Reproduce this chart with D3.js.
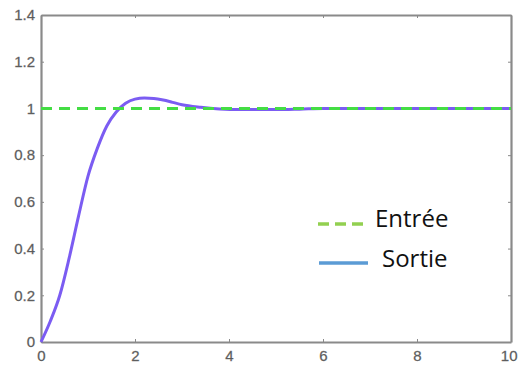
<!DOCTYPE html>
<html>
<head>
<meta charset="utf-8">
<script src="https://cdn.jsdelivr.net/npm/d3@7"></script>
<style>
  body { margin: 0; background: #fff; }
  .axis text { font-family: "Liberation Sans", Arial, sans-serif; font-size: 15px; fill: #555; stroke: #777; stroke-width: 0.3px; }
  .axis path, .axis line { stroke: #8a8a8a; }
</style>
</head>
<body>
<div id="chart"></div>
<script>
// step response
const timeVals = [0, 0.2, 0.4, 0.6, 0.8, 1.0, 1.2, 1.4, 1.6, 1.8, 2.0, 2.2, 2.4, 2.6, 2.8, 3.0, 3.4, 3.8, 4.2, 4.6, 5.0, 5.5, 6, 7, 8, 9, 10]
const outputVals = [0, 0.09, 0.2, 0.36, 0.54, 0.71, 0.83, 0.925, 0.985, 1.022, 1.04, 1.045, 1.043, 1.036, 1.026, 1.016, 1.005, 0.998, 0.995, 0.995, 0.995, 0.997, 1.0, 1.0, 1.0, 1.0, 1.0]
const inputTime = [0, 10]
const inputVals = [1, 1]
const xTicks = [0, 2, 4, 6, 8, 10]
const yTicks = [0, 0.2, 0.4, 0.6, 0.8, 1, 1.2, 1.4]
const legendLabels = ['Entrée', 'Sortie']

const W = 518, H = 365
const margin = { top: 15, right: 7, bottom: 23, left: 41 }
const width = W - margin.left - margin.right
const height = H - margin.top - margin.bottom

const svg = d3.select('#chart')
    .append('svg')
    .attr('width', W)
    .attr('height', H)
    .append('g')
    .attr('transform', `translate(${margin.left}, ${margin.top})`);

const xScale = d3.scaleLinear().domain([0, 10]).range([0, width]);
const yScale = d3.scaleLinear().domain([0, 1.4]).range([height, 0]);

// box with inward ticks on all four sides
const fmt = d => d3.format('~g')(d)
const xAxisG = svg.append('g').attr('class', 'axis')
    .attr('transform', 'translate(0,' + height + ')')
    .call(d3.axisBottom(xScale).tickValues(xTicks).tickFormat(fmt).tickSizeInner(-3).tickSizeOuter(0).tickPadding(8))
// last label would run off the right edge, pull it in
xAxisG.selectAll('.tick text').filter(d => d === 10)
    .attr('text-anchor', 'end').attr('dx', '6')
svg.append('g').attr('class', 'axis')
    .call(d3.axisLeft(yScale).tickValues(yTicks).tickFormat(fmt).tickSizeInner(-3).tickSizeOuter(0).tickPadding(6))
svg.append('g').attr('class', 'axis')
    .call(d3.axisTop(xScale).tickValues(xTicks).tickFormat('').tickSizeInner(-3).tickSizeOuter(0))
svg.append('g').attr('class', 'axis')
    .attr('transform', 'translate(' + width + ',0)')
    .call(d3.axisRight(yScale).tickValues(yTicks).tickFormat('').tickSizeInner(-3).tickSizeOuter(0))
svg.selectAll('.axis path').attr('stroke-width', 2.2)

//output curve
const outLine = d3.line()
    .x((d, i) => xScale(timeVals[i]))
    .y(d => yScale(d))
    .curve(d3.curveMonotoneX)
svg.append('path')
    .datum(outputVals)
    .attr('fill', 'none')
    .attr('stroke', '#7b5cf2')
    .attr('stroke-width', 3)
    .attr('stroke-linejoin', 'round')
    .attr('d', outLine)

//input step (dashed, on top)
const inLine = d3.line()
    .x((d, i) => xScale(inputTime[i]))
    .y(d => yScale(d))
svg.append('path')
    .datum(inputVals)
    .attr('fill', 'none')
    .attr('stroke', '#44dd44')
    .attr('stroke-width', 3)
    .attr('stroke-dasharray', '11,7')
    .attr('d', inLine)

//legend
const lg = d3.select('svg').append('g')
const legendStyles = [
    { color: '#92d050', dash: '11,6', y: 224, x1: 318, x2: 363, tx: 375, ty: 227 },
    { color: '#5b9bd5', dash: null, y: 263, x1: 319, x2: 368, tx: 382, ty: 267 }
]
legendLabels.forEach((lab, i) => {
    const s = legendStyles[i]
    lg.append('line')
        .attr('x1', s.x1).attr('x2', s.x2)
        .attr('y1', s.y).attr('y2', s.y)
        .attr('stroke', s.color)
        .attr('stroke-width', 3.5)
        .attr('stroke-dasharray', s.dash)
    lg.append('text')
        .attr('x', s.tx)
        .attr('y', s.ty)
        .style('font-family', '"Open Sans", "Noto Sans", sans-serif')
        .style('font-size', '24px')
        .style('fill', '#111')
        .text(lab)
})
</script>
</body>
</html>
